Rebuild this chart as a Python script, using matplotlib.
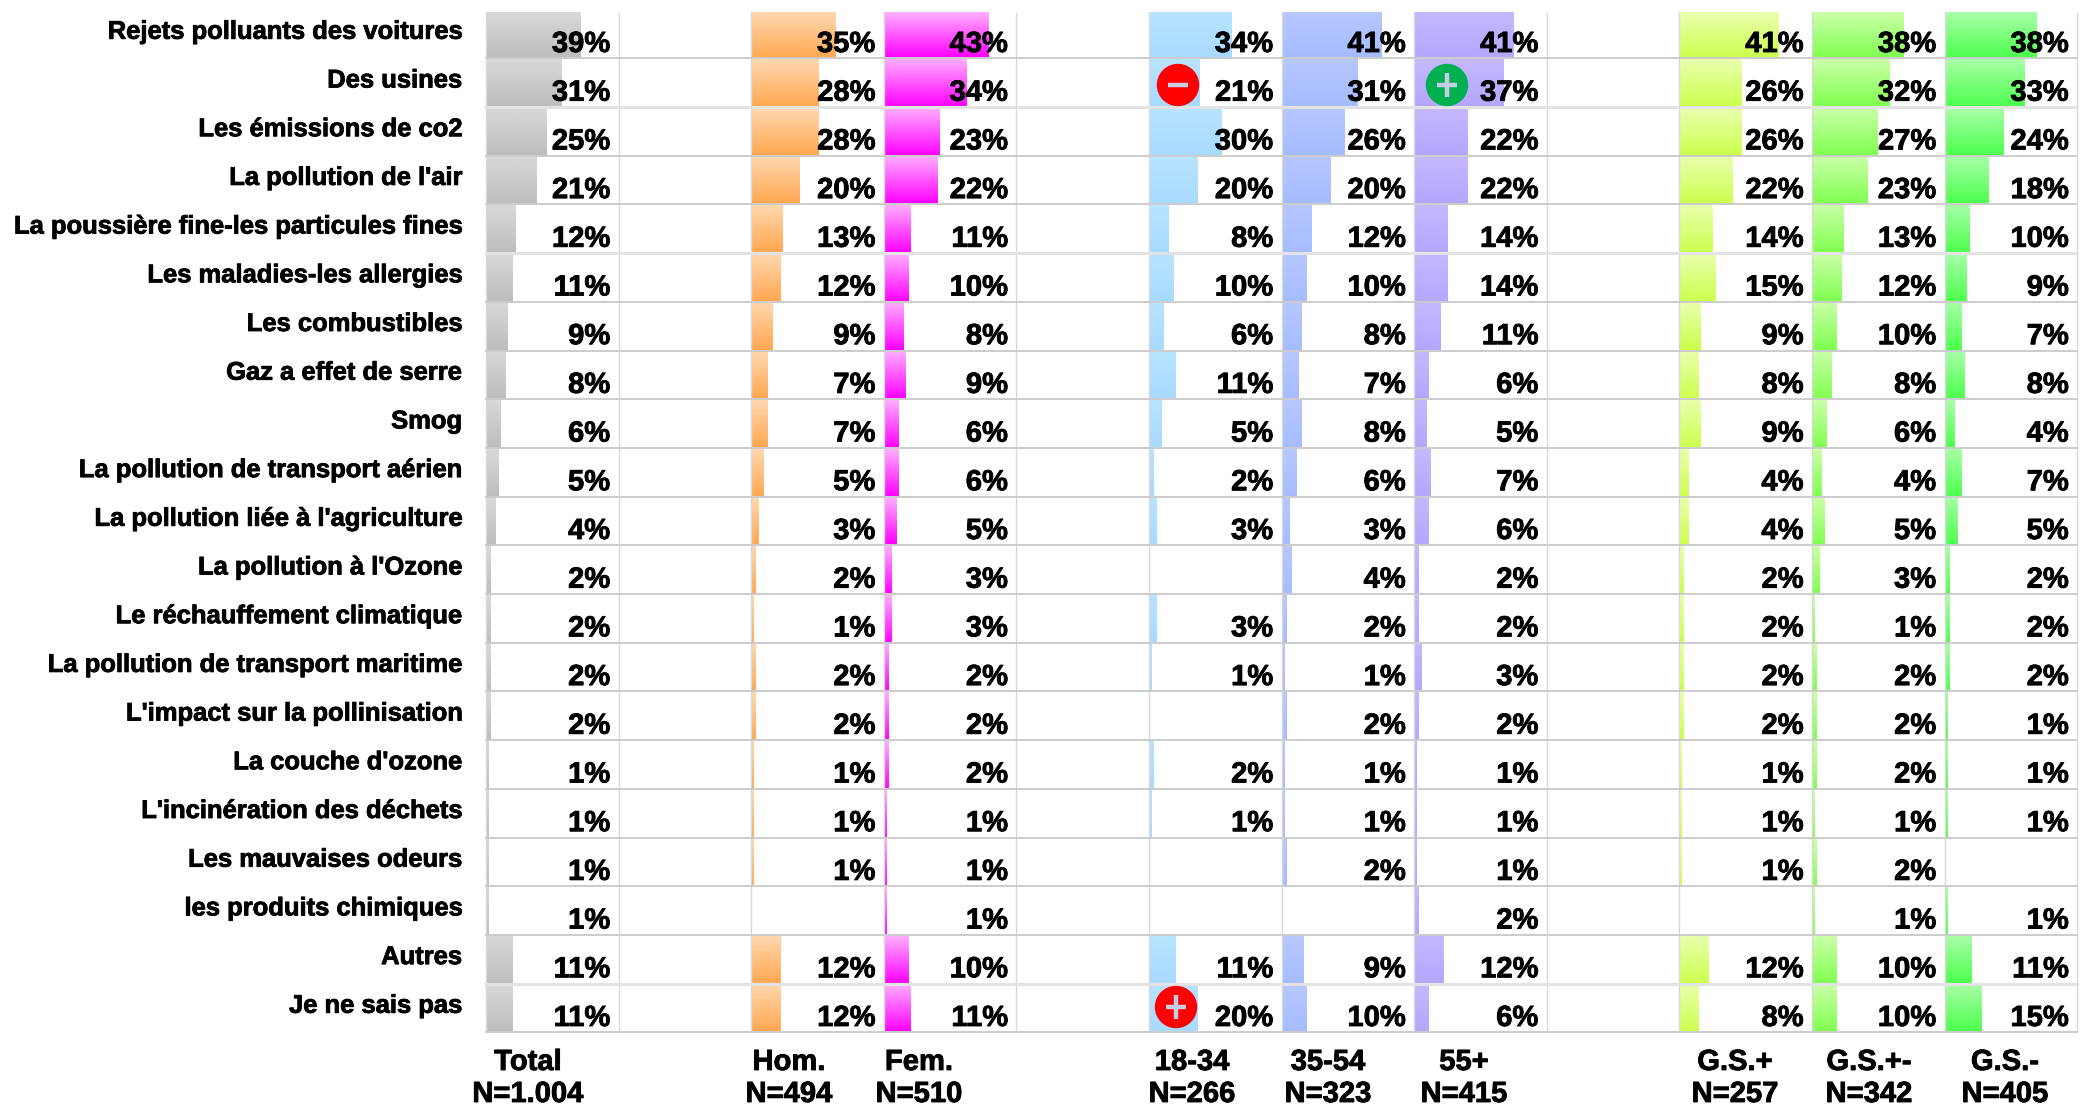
import numpy as np
import matplotlib
matplotlib.use("Agg")
import matplotlib.pyplot as plt
import matplotlib.patheffects as pe
from matplotlib.colors import to_rgb
from matplotlib.patches import Circle

plt.rcParams['font.family'] = ['Liberation Sans', 'DejaVu Sans']

categories = ["Rejets polluants des voitures", "Des usines", "Les émissions de co2",
              "La pollution de l'air", "La poussière fine-les particules fines",
              "Les maladies-les allergies", "Les combustibles", "Gaz a effet de serre",
              "Smog", "La pollution de transport aérien", "La pollution liée à l'agriculture",
              "La pollution à l'Ozone", "Le réchauffement climatique",
              "La pollution de transport maritime", "L'impact sur la pollinisation",
              "La couche d'ozone", "L'incinération des déchets", "Les mauvaises odeurs",
              "les produits chimiques", "Autres", "Je ne sais pas"]

total = [39, 31, 25, 21, 12, 11, 9, 8, 6, 5, 4, 2, 2, 2, 2, 1, 1, 1, 1, 11, 11]
hom = [35, 28, 28, 20, 13, 12, 9, 7, 7, 5, 3, 2, 1, 2, 2, 1, 1, 1, None, 12, 12]
fem = [43, 34, 23, 22, 11, 10, 8, 9, 6, 6, 5, 3, 3, 2, 2, 2, 1, 1, 1, 10, 11]
age_18 = [34, 21, 30, 20, 8, 10, 6, 11, 5, 2, 3, None, 3, 1, None, 2, 1, None, None, 11, 20]
age_35 = [41, 31, 26, 20, 12, 10, 8, 7, 8, 6, 3, 4, 2, 1, 2, 1, 1, 2, None, 9, 10]
age_55 = [41, 37, 22, 22, 14, 14, 11, 6, 5, 7, 6, 2, 2, 3, 2, 1, 1, 1, 2, 12, 6]
gs_plus = [41, 26, 26, 22, 14, 15, 9, 8, 9, 4, 4, 2, 2, 2, 2, 1, 1, 1, None, 12, 8]
gs_mid = [38, 32, 27, 23, 13, 12, 10, 8, 6, 4, 5, 3, 1, 2, 2, 2, 1, 2, 1, 10, 10]
gs_minus = [38, 33, 24, 18, 10, 9, 7, 8, 4, 7, 5, 2, 2, 2, 1, 1, 1, None, 1, 11, 15]

series = [total, hom, fem, age_18, age_35, age_55, gs_plus, gs_mid, gs_minus]
headers = ["Total", "Hom.", "Fem.", "18-34", "35-54", "55+", "G.S.+", "G.S.+-", "G.S.-"]
bases = ["N=1.004", "N=494", "N=510", "N=266", "N=323", "N=415", "N=257", "N=342", "N=405"]

# column slot of each series, slots 1, 4 and 8 stay empty
slots = [0, 2, 3, 5, 6, 7, 9, 10, 11]
header_x = [528, 789, 919, 1192, 1328, 1464, 1735, 1869, 2005]
gradients = [("#D9D9D9", "#BDBDBD"), ("#FFD8B0", "#FFA850"), ("#FFB0FF", "#FF00FF"),
             ("#B8E4FF", "#A8DAFF"), ("#B8C8FF", "#A6BCFF"), ("#C6B8FF", "#B5A6FF"),
             ("#EAFFB0", "#CCFF4D"), ("#CCFFAA", "#80FF50"), ("#AAFFAA", "#4DFF4D")]

LEFT = 486
COL_W = 132.6
TOP = 13
ROW_H = 48.7
FIRST = 58.3 - ROW_H  # first row is cut off by the top of the table
PX_PER_PCT = 2.42

fig = plt.figure(figsize=(20.8, 11.08), dpi=100)
ax = fig.add_axes([0, 0, 1, 1])
n = len(categories)
heavy = [pe.withStroke(linewidth=0.6, foreground="black")]


def gradient_bar(x0, width, y0, y1, c_top, c_bottom):
    """bar drawn as a small vertical colour ramp"""
    ramp = np.linspace(to_rgb(c_top), to_rgb(c_bottom), 48).reshape(48, 1, 3)
    ax.imshow(ramp, extent=(x0, x0 + width, y1, y0), aspect="auto",
              interpolation="bilinear", zorder=1)


for s, slot, grad in zip(series, slots, gradients):
    x0 = LEFT + slot * COL_W
    for i, val in enumerate(s):
        if val is None:
            continue
        y0 = FIRST + i * ROW_H
        gradient_bar(x0, val * PX_PER_PCT, max(y0, TOP), y0 + ROW_H, grad[0], grad[1])
        ax.text(x0 + COL_W - 8.5, y0 + 42.4, "%d%%" % val, ha="right", va="baseline",
                fontsize=21, fontweight="bold", color="black", zorder=5, path_effects=heavy)

# grid
for k in range(13):
    ax.plot([LEFT + k * COL_W] * 2, [TOP, FIRST + n * ROW_H], color="#D9D9D9", lw=1, zorder=2)
for k in range(1, n + 1):
    light = k in (2, 5, 20)
    ax.plot([LEFT, LEFT + 12 * COL_W], [FIRST + k * ROW_H] * 2,
            color="#E3E3E3" if light else "#CCCCCC", lw=2.2 if light else 1.4, zorder=2)

# row labels
for i, cat in enumerate(categories):
    ax.text(462, FIRST + i * ROW_H + 29.2, cat, ha="right", va="baseline",
            fontsize=18.4, fontweight="bold", color="black", path_effects=heavy)

# column headers
for x, head, base in zip(header_x, headers, bases):
    ax.text(x, 1070, head, ha="center", va="baseline", fontsize=21, fontweight="bold", path_effects=heavy)
    ax.text(x, 1102, base, ha="center", va="baseline", fontsize=21, fontweight="bold", path_effects=heavy)

# significance markers
for mx, my, col, plus in [(1178, 85, "#FF0000", False), (1447, 85, "#00B050", True),
                          (1176, 1007, "#FF0000", True)]:
    ax.add_patch(Circle((mx, my), 20.5, color=col, zorder=4))
    ax.plot([mx - 10, mx + 10], [my, my], color="#C4CEE4", lw=3.2, zorder=4.5, solid_capstyle="butt")
    if plus:
        ax.plot([mx, mx], [my - 12, my + 12], color="#C4CEE4", lw=3.2, zorder=4.5, solid_capstyle="butt")

ax.set_xlim(0, 2080)
ax.set_ylim(1108, 0)
ax.axis("off")

plt.savefig("out.png", dpi=100)
print("Generated plot")
